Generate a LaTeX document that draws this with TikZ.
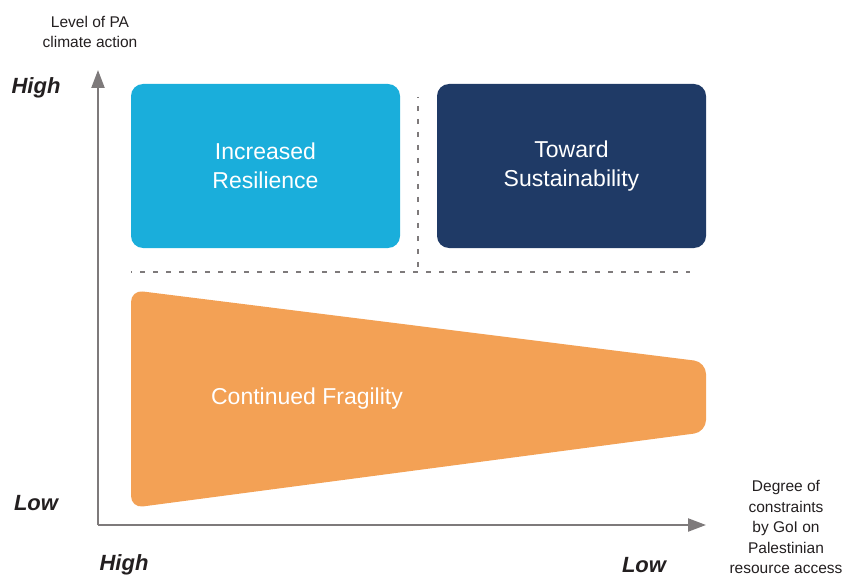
\documentclass[tikz,border=0pt]{standalone}
\usepackage{fontspec}
\setmainfont{Liberation Sans}
\usetikzlibrary{arrows.meta}
\definecolor{paltblue}{HTML}{1AAEDB}
\definecolor{panavy}{HTML}{1F3A66}
\definecolor{paorange}{HTML}{F3A155}
\definecolor{paaxis}{HTML}{7E7A7B}
\definecolor{patext}{HTML}{231F20}

\tikzset{
  zone/.style={rounded corners=12pt, minimum width=269pt, minimum height=164pt,
    text=white, align=center, font=\fontsize{23}{29}\selectfont},
  axislabel/.style={text=patext, font=\fontsize{22}{26}\selectfont\bfseries\itshape},
  axistitle/.style={text=patext, align=center, font=\fontsize{15.5}{20.5}\selectfont},
  divider/.style={paaxis, line width=2.6pt, dash pattern=on 5pt off 8pt, dash phase=4pt}
}

\begin{document}
\begin{tikzpicture}[x=1pt, y=-1pt, line join=round]
  \useasboundingbox (0,0) rectangle (843,580);
  \coordinate (O) at (98,525);
  \coordinate (ytip) at (98,70);
  \coordinate (xtip) at (706,525);
  % axes
  \draw[paaxis, line width=2.2pt, -{Triangle[length=18pt, width=13pt]}] (O) -- (ytip);
  \draw[paaxis, line width=2.2pt, -{Triangle[length=18pt, width=13pt]}] (O) -- (xtip);
  % upper zones
  \node[zone, fill=paltblue] (resil) at (265.5,166) {Increased\\Resilience};
  \node[zone, fill=panavy] (sustain) at (571.5,166) {Toward\\Sustainability};
  % dotted dividers
  \coordinate (hl) at (131,272);
  \coordinate (hr) at (690,272);
  \coordinate (vt) at (418,97);
  \coordinate (vb) at (418,272);
  \draw[divider] (hl) -- (hr);
  \draw[divider] (vt) -- (vb);
  % fragility wedge
  \fill[paorange, rounded corners=12pt] (131,290) -- (706,362) -- (706,432) -- (131,508) -- cycle;
  \node[text=white, font=\fontsize{23}{29}\selectfont] (frag) at (307,399) {Continued Fragility};
  % axis end labels
  \node[axislabel] (yhigh) at (36,88) {High};
  \node[axislabel] (ylow) at (36,503) {Low};
  \node[axislabel] (xhigh) at (124,565) {High};
  \node[axislabel] (xlow) at (644,565) {Low};
  % axis titles
  \node[axistitle] (ytitle) at (90,32) {Level of PA\\climate action};
  \node[axistitle] (xtitle) at (786,527) {Degree of\\constraints\\by GoI on\\Palestinian\\resource access};
\end{tikzpicture}
\end{document}
